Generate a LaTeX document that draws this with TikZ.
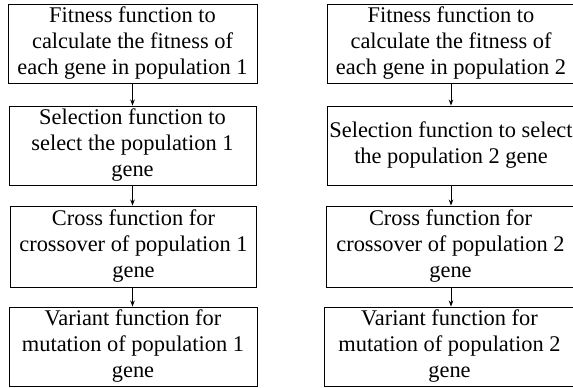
\documentclass[tikz,border=0pt]{standalone}
\usepackage{fontspec}
\setmainfont{Liberation Serif}
\usetikzlibrary{arrows.meta}
\begin{document}
\begin{tikzpicture}[x=1pt,y=-1pt,
  stagebox/.style={draw=black, line width=0.9pt, inner sep=0pt, align=center,
    font=\fontsize{22.4}{26}\selectfont},
  flow/.style={draw=black, line width=0.8pt, -{Stealth[length=6pt,width=4.5pt]}}]
\useasboundingbox (0,0) rectangle (573,388);
\clip (0,0) rectangle (573,388);
% population 1 chain
\node[stagebox, minimum width=249pt, minimum height=79pt] (l1) at (132.5,43.5)
  {Fitness function to\\calculate the fitness of\\each gene in population 1};
\node[stagebox, minimum width=247pt, minimum height=79pt] (l2) at (132.5,145.5)
  {Selection function to\\select the population 1\\gene};
\node[stagebox, minimum width=246pt, minimum height=81pt] (l3) at (133.5,246.5)
  {Cross function for\\crossover of population 1\\gene};
\node[stagebox, minimum width=248pt, minimum height=79pt] (l4) at (133,346.5)
  {Variant function for\\mutation of population 1\\gene};
% population 2 chain
\node[stagebox, minimum width=248pt, minimum height=79pt] (r1) at (451,43.5)
  {Fitness function to\\calculate the fitness of\\each gene in population 2};
\node[stagebox, minimum width=248pt, minimum height=79pt] (r2) at (451,145.5)
  {Selection function to select\\the population 2 gene};
\node[stagebox, minimum width=249pt, minimum height=81pt] (r3) at (450.5,246.5)
  {Cross function for\\crossover of population 2\\gene};
\node[stagebox, minimum width=251pt, minimum height=79pt] (r4) at (449.5,346.5)
  {Variant function for\\mutation of population 2\\gene};
% connectors
\draw[flow] (l1.south) -- (l1.south |- l2.north);
\draw[flow] (l2.south) -- (l2.south |- l3.north);
\draw[flow] (l2.south |- l3.south) -- (l2.south |- l4.north);
\draw[flow] (r1.south) -- (r1.south |- r2.north);
\draw[flow] (r2.south) -- (r2.south |- r3.north);
\draw[flow] (r2.south |- r3.south) -- (r2.south |- r4.north);
\end{tikzpicture}
\end{document}
